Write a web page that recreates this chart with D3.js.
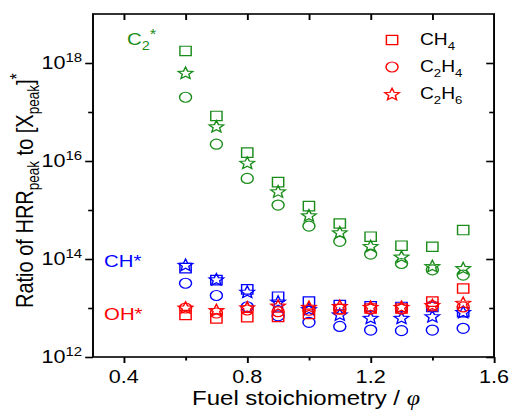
<!DOCTYPE html>
<html>
<head>
<meta charset="utf-8">
<script src="https://cdn.jsdelivr.net/npm/d3@7"></script>
<style>
  html, body { margin: 0; padding: 0; background: #fff; }
  svg { display: block; }
  text { font-family: "Liberation Sans", Arial, Helvetica, sans-serif; }
</style>
</head>
<body>
<svg id="chart" width="510" height="410"></svg>
<script>
// Equivalence ratios
const phi = [0.6, 0.7, 0.8, 0.9, 1.0, 1.1, 1.2, 1.3, 1.4, 1.5];

// Ratio of HRR_peak to [X_peak]* — C2* chemiluminescence
const c2CH4  = [1.76e18, 8.3e16, 1.48e16, 3.7e15, 1.2e15, 5.3e14, 2.85e14, 1.87e14, 1.78e14, 3.9e14];
const c2C2H4 = [2.0e17, 2.2e16, 4.4e15, 1.26e15, 4.7e14, 2.3e14, 1.26e14, 8.1e13, 6.0e13, 4.7e13];
const c2C2H6 = [6.3e17, 5.1e16, 9.2e15, 2.4e15, 7.8e14, 3.5e14, 1.84e14, 1.12e14, 7.2e13, 6.5e13];

// CH*
const chCH4  = [6.5e13, 3.7e13, 2.4e13, 1.7e13, 1.35e13, 1.15e13, 1.08e13, 1.05e13, 1.05e13, 8.2e12];
const chC2H4 = [3.2e13, 1.8e13, 1.06e13, 6.9e12, 5.1e12, 4.2e12, 3.55e12, 3.45e12, 3.55e12, 3.85e12];
const chC2H6 = [7.6e13, 3.85e13, 2.15e13, 1.35e13, 9.5e12, 7.4e12, 6.3e12, 6.3e12, 6.8e12, 8.3e12];

// OH*
const ohCH4  = [7.2e12, 6.1e12, 6.5e12, 6.6e12, 7.6e12, 9.5e12, 9.8e12, 9.8e12, 1.35e13, 2.5e13];
const ohC2H4 = [1.0e13, 7.9e12, 9.1e12, 8.4e12, 9.0e12, 9.5e12, 9.5e12, 9.5e12, 1.1e13, 1.05e13];
const ohC2H6 = [1.02e13, 9.1e12, 1.03e13, 1.12e13, 1.06e13, 1.1e13, 1.06e13, 1.06e13, 1.15e13, 1.28e13];

// Axis ticks
const xMajorTicks = [0.4, 0.8, 1.2, 1.6];
const xMinorTicks = [0.6, 1.0, 1.4];
const yMajorExp = [12, 14, 16, 18];
const yMinorExp = [13, 15, 17];

const GREEN = "#1a8c1a", BLUE = "#0000ff", RED = "#ff0000";

// Series: species colour x fuel marker
const series = [
  { values: c2CH4,  marker: "square", color: GREEN },
  { values: c2C2H4, marker: "circle", color: GREEN },
  { values: c2C2H6, marker: "star",   color: GREEN },
  { values: chCH4,  marker: "square", color: BLUE },
  { values: chC2H4, marker: "circle", color: BLUE },
  { values: chC2H6, marker: "star",   color: BLUE },
  { values: ohCH4,  marker: "square", color: RED },
  { values: ohC2H4, marker: "circle", color: RED },
  { values: ohC2H6, marker: "star",   color: RED }
];

const legendItems = [
  { marker: "square", base: "CH", sub1: "", mid: "", sub2: "4" },
  { marker: "circle", base: "C", sub1: "2", mid: "H", sub2: "4" },
  { marker: "star",   base: "C", sub1: "2", mid: "H", sub2: "6" }
];

// The drawing is laid out in a narrower coordinate frame and stretched to the window width.
const W = 425, H = 410;
const svg = d3.select("#chart")
  .attr("viewBox", `0 0 ${W} ${H}`)
  .attr("preserveAspectRatio", "none");

const plot = { left: 77.5, right: 411.7, top: 14, bottom: 357 };

const x = d3.scaleLinear().domain([0.3, 1.6]).range([plot.left, plot.right]);
const y = d3.scaleLog().domain([1e12, 1e19]).range([plot.bottom, plot.top]);

// Marker shapes
const markerShapes = {
  square: {
    draw(ctx) { const s = 4.7; ctx.moveTo(-s, -s); ctx.lineTo(s, -s); ctx.lineTo(s, s); ctx.lineTo(-s, s); ctx.closePath(); }
  },
  circle: {
    draw(ctx) { const r = 5; ctx.moveTo(r, 0); ctx.arc(0, 0, r, 0, 2 * Math.PI); ctx.closePath(); }
  },
  star: {
    draw(ctx) {
      const R = 6.4, r = R * 0.45;
      for (let i = 0; i < 10; i++) {
        const a = -Math.PI / 2 + i * Math.PI / 5;
        const rad = i % 2 === 0 ? R : r;
        const px = rad * Math.cos(a), py = rad * Math.sin(a) + 0.6;
        if (i === 0) ctx.moveTo(px, py); else ctx.lineTo(px, py);
      }
      ctx.closePath();
    }
  }
};
const symbolPath = m => d3.symbol().type(markerShapes[m])();

// Axes: bottom (outward), top (inward), left (outward), right (inward)
const axisStroke = 1.6;
function styleAxis(g) {
  g.select(".domain").remove();
  g.selectAll(".tick line").attr("stroke", "#000").attr("stroke-width", axisStroke);
}

svg.append("g").attr("transform", `translate(0,${plot.bottom})`)
  .call(d3.axisBottom(x).tickValues(xMajorTicks).tickSize(6).tickFormat(""))
  .call(styleAxis);
svg.append("g").attr("transform", `translate(0,${plot.bottom})`)
  .call(d3.axisBottom(x).tickValues(xMinorTicks).tickSize(3.5).tickFormat(""))
  .call(styleAxis);
svg.append("g").attr("transform", `translate(0,${plot.top})`)
  .call(d3.axisTop(x).tickValues(xMajorTicks.concat(xMinorTicks).filter(v => v < 1.6)).tickSize(-6).tickFormat(""))
  .call(styleAxis);

const yMajor = yMajorExp.map(e => Math.pow(10, e));
const yMinor = yMinorExp.map(e => Math.pow(10, e));
svg.append("g").attr("transform", `translate(${plot.left},0)`)
  .call(d3.axisLeft(y).tickValues(yMajor).tickSize(6.5).tickFormat(""))
  .call(styleAxis);
svg.append("g").attr("transform", `translate(${plot.left},0)`)
  .call(d3.axisLeft(y).tickValues(yMinor).tickSize(4).tickFormat(""))
  .call(styleAxis);
svg.append("g").attr("transform", `translate(${plot.right},0)`)
  .call(d3.axisRight(y).tickValues(yMajor).tickSize(-6.5).tickFormat(""))
  .call(styleAxis);
svg.append("g").attr("transform", `translate(${plot.right},0)`)
  .call(d3.axisRight(y).tickValues(yMinor).tickSize(-4).tickFormat(""))
  .call(styleAxis);

// Frame
svg.append("rect")
  .attr("x", plot.left).attr("y", plot.top)
  .attr("width", plot.right - plot.left).attr("height", plot.bottom - plot.top)
  .attr("fill", "none").attr("stroke", "#000").attr("stroke-width", axisStroke);

// X tick labels
svg.append("g").selectAll("text").data(xMajorTicks).join("text")
  .attr("x", d => x(d)).attr("y", 383)
  .attr("text-anchor", "middle").attr("font-size", 18)
  .text(d => d.toFixed(1));

// Y tick labels as powers of ten
const yLab = svg.append("g").selectAll("text").data(yMajorExp).join("text")
  .attr("x", 68.5).attr("y", d => y(Math.pow(10, d)) + 6.5)
  .attr("text-anchor", "end").attr("font-size", 18);
yLab.append("tspan").text("10");
yLab.append("tspan").attr("font-size", 12.5).attr("dy", -7.5).text(d => d);

// Axis titles
const xt = svg.append("text")
  .attr("x", 255).attr("y", 405)
  .attr("text-anchor", "middle").attr("font-size", 20);
xt.append("tspan").text("Fuel stoichiometry / ");
xt.append("tspan").attr("font-style", "italic")
  .attr("font-family", "Liberation Serif, Times New Roman, serif").text("\u03C6");

const yt = svg.append("text")
  .attr("transform", `translate(27.5,308) rotate(-90)`)
  .attr("text-anchor", "start").attr("font-size", 20);
yt.append("tspan").text("Ratio of HRR");
yt.append("tspan").attr("font-size", 13.5).attr("dy", 5).text("peak");
yt.append("tspan").attr("dy", -5).text(" to [X");
yt.append("tspan").attr("font-size", 13.5).attr("dy", 5).text("peak");
yt.append("tspan").attr("dy", -5).text("]");
yt.append("tspan").attr("font-size", 16).attr("dy", -8).text("*");

// Data markers
series.forEach(s => {
  svg.append("g").selectAll("path").data(s.values).join("path")
    .attr("transform", (d, i) => `translate(${x(phi[i])},${y(d)})`)
    .attr("d", symbolPath(s.marker))
    .attr("fill", "none").attr("stroke", s.color).attr("stroke-width", 1.2);
});

// Species labels
const c2Lab = svg.append("text").attr("x", 105.8).attr("y", 45)
  .attr("font-size", 17).attr("fill", GREEN);
c2Lab.append("tspan").text("C");
c2Lab.append("tspan").attr("font-size", 12).attr("dy", 5).text("2");
c2Lab.append("tspan").attr("font-size", 14).attr("dy", -11).text("*");

svg.append("text").attr("x", 86.7).attr("y", 267)
  .attr("font-size", 17).attr("fill", BLUE).text("CH*");
svg.append("text").attr("x", 86.7).attr("y", 320)
  .attr("font-size", 17).attr("fill", RED).text("OH*");

// Legend
const legendRows = [40, 67, 94];
const leg = svg.append("g");
legendItems.forEach((item, i) => {
  const yy = legendRows[i];
  leg.append("path")
    .attr("transform", `translate(326.7,${yy})`)
    .attr("d", symbolPath(item.marker))
    .attr("fill", "none").attr("stroke", RED).attr("stroke-width", 1.2);
  const t = leg.append("text").attr("x", 350).attr("y", yy + 5.5).attr("font-size", 16);
  t.append("tspan").text(item.base);
  if (item.sub1) {
    t.append("tspan").attr("font-size", 11).attr("dy", 5).text(item.sub1);
    t.append("tspan").attr("dy", -5).text(item.mid);
  }
  t.append("tspan").attr("font-size", 11).attr("dy", 5).text(item.sub2);
});
</script>
</body>
</html>
